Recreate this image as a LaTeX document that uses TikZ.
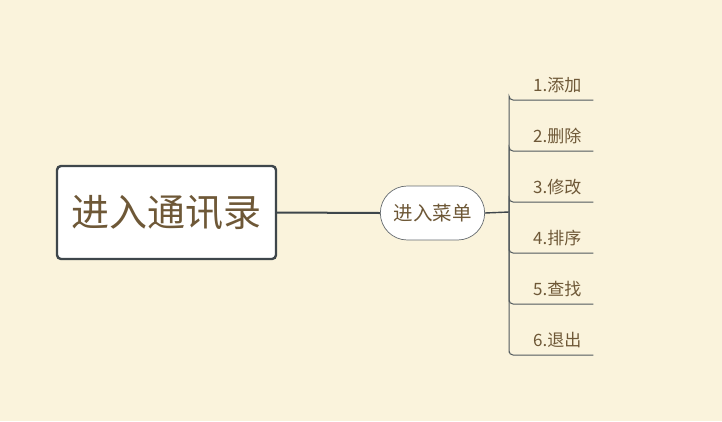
\documentclass[tikz,border=0pt]{standalone}
\usepackage{fontspec}
\newfontfamily\cjk{Noto Sans CJK SC}
\usepackage{tikz}
\usetikzlibrary{calc,positioning,shapes.misc}
\definecolor{paper}{HTML}{FAF3DC}
\definecolor{ink}{HTML}{6E5837}
\definecolor{edge}{HTML}{3E464B}

\begin{document}
\begin{tikzpicture}[x=1pt,y=-1pt,
  rootbox/.style={draw=edge,line width=2.4pt,rounded corners=4pt,fill=white,
    minimum width=219pt,minimum height=93pt,text=ink,font=\cjk\fontsize{38}{42}\selectfont},
  menubox/.style={draw=edge!80,line width=0.7pt,rounded rectangle,fill=white,
    minimum width=111pt,minimum height=54pt,text=ink,font=\cjk\fontsize{19.5}{22}\selectfont},
  opbox/.style={anchor=south west,minimum width=84pt,inner ysep=6.5pt,text=ink,
    font=\cjk\fontsize{17}{19}\selectfont},
  twig/.style={draw=edge!90,line width=1pt,rounded corners=4pt}]
  \fill[paper] (0,0) rectangle (722,421);
  \useasboundingbox (0,0) rectangle (722,421);
  \node[rootbox] (root) at (166.5,212.5) {进入通讯录};
  \node[menubox] (menu) at (432.5,213) {进入菜单};
  \draw[edge,line width=2pt] (root.east) -- (menu.west);
  \coordinate (fork) at (509,212);
  \draw[edge,line width=1.4pt] (menu.east) -- (fork);
  % branches: label above, underline below
  \foreach \i/\y/\lab in {1/100/添加,2/151/删除,3/202/修改,4/253/排序,5/304/查找,6/355/退出}{
    \node[opbox] (op\i) at (509,\y) {\hspace{12pt}\i.\lab};
    \draw[twig] (fork) |- (op\i.south west) -- (op\i.south east);
  }
\end{tikzpicture}
\end{document}
